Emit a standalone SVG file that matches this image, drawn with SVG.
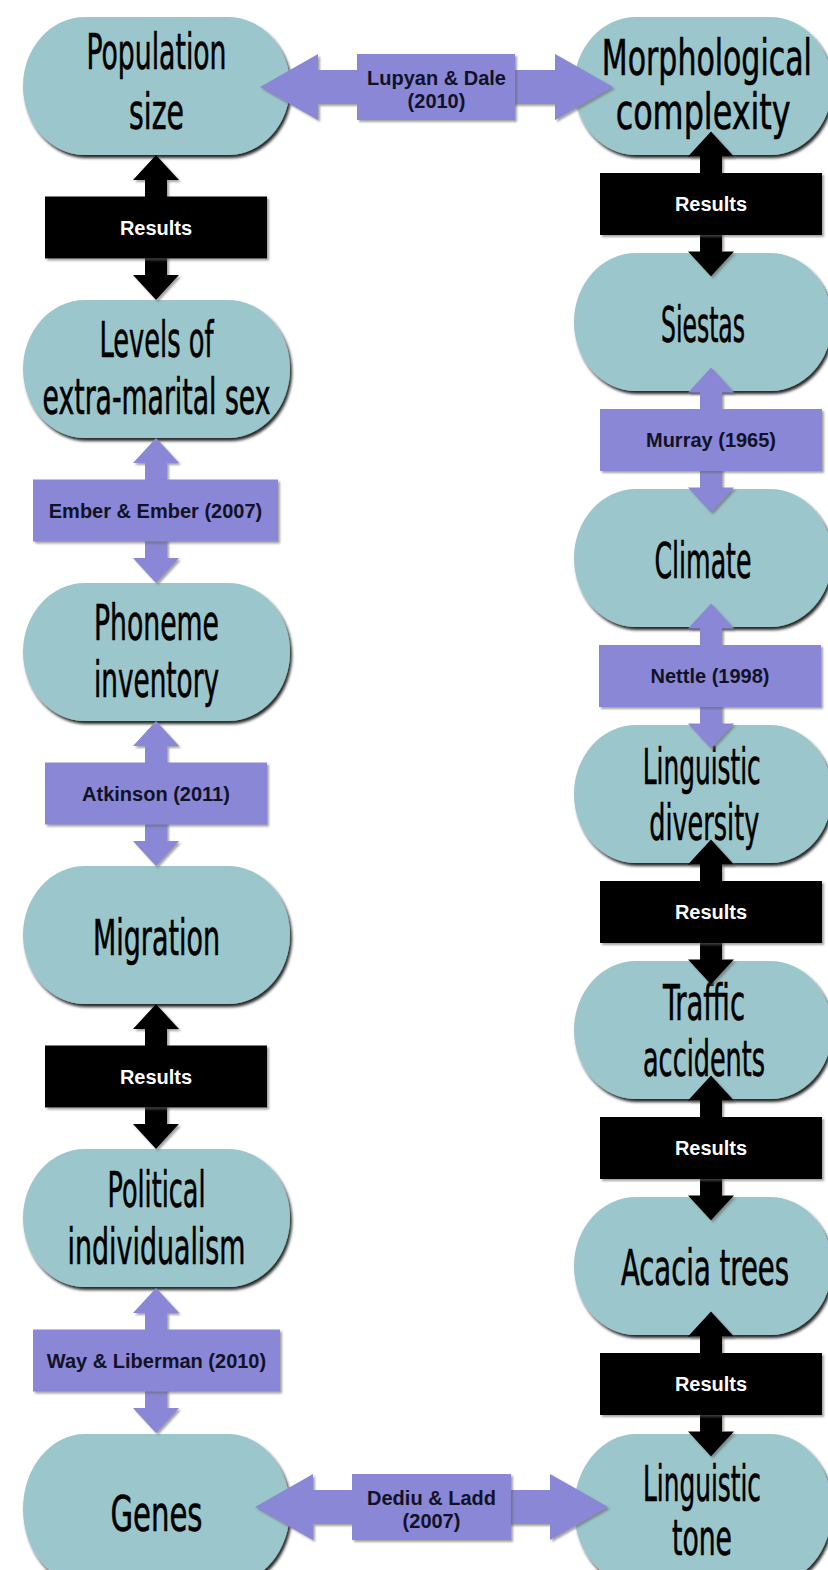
<svg xmlns="http://www.w3.org/2000/svg" xmlns:xlink="http://www.w3.org/1999/xlink" width="828" height="1570" viewBox="0 0 828 1570">
<style>
.node{fill:#9bc6cb;filter:url(#nshadow)}
.nt{font-family:"Liberation Sans Narrow","DejaVu Sans Condensed","Liberation Sans",sans-serif;font-size:49px;fill:#000;stroke:#000;stroke-width:0.6px;text-anchor:middle}
.pu{fill:#8987d6;filter:url(#ashadow)}
.bk{fill:#000;filter:url(#ashadow)}
.lt{font-family:"Liberation Sans",Arial,sans-serif;font-weight:bold;font-size:20px;text-anchor:middle}
.lp{fill:#121226}
.lw{fill:#fff}
</style>
<defs>
<filter id="nshadow" x="-10%" y="-10%" width="125%" height="130%">
<feDropShadow dx="2" dy="3" stdDeviation="1.5" flood-color="#000" flood-opacity="0.85"/>
</filter>
<filter id="ashadow" x="-10%" y="-10%" width="125%" height="130%">
<feDropShadow dx="2" dy="2" stdDeviation="1" flood-color="#666" flood-opacity="0.6"/>
</filter>
<path id="va" d="M0,-72.5 L23,-47.5 L11,-47.5 L11,47.5 L23,47.5 L0,72.5 L-23,47.5 L-11,47.5 L-11,-47.5 L-23,-47.5 Z"/>
<path id="ha" d="M-176.5,0 L-118.5,-33 L-118.5,-17 L118.5,-17 L118.5,-33 L176.5,0 L118.5,33 L118.5,17 L-118.5,17 L-118.5,33 Z"/>
</defs>
<rect width="828" height="1570" fill="#fff"/>

<g id="n-population">
<rect class="node" x="23" y="17" width="267" height="138" rx="62" ry="69"/>
<text class="nt" transform="translate(156.5,0) scale(0.62,1)"><tspan x="0" y="69" textLength="225.8" lengthAdjust="spacingAndGlyphs">Population</tspan><tspan x="0" y="129" textLength="88.7" lengthAdjust="spacingAndGlyphs">size</tspan></text>
</g>
<g id="n-levels">
<rect class="node" x="23" y="300" width="267" height="138" rx="62" ry="69"/>
<text class="nt" transform="translate(156.5,0) scale(0.62,1)"><tspan x="0" y="357" textLength="183.9" lengthAdjust="spacingAndGlyphs">Levels of</tspan><tspan x="0" y="414" textLength="367.7" lengthAdjust="spacingAndGlyphs">extra-marital sex</tspan></text>
</g>
<g id="n-phoneme">
<rect class="node" x="23" y="583" width="267" height="138" rx="62" ry="69"/>
<text class="nt" transform="translate(156.5,0) scale(0.62,1)"><tspan x="0" y="640" textLength="201.6" lengthAdjust="spacingAndGlyphs">Phoneme</tspan><tspan x="0" y="697" textLength="201.6" lengthAdjust="spacingAndGlyphs">inventory</tspan></text>
</g>
<g id="n-migration">
<rect class="node" x="23" y="866" width="267" height="138" rx="62" ry="69"/>
<text class="nt" transform="translate(156.5,955) scale(0.62,1)" textLength="204.8" lengthAdjust="spacingAndGlyphs">Migration</text>
</g>
<g id="n-political">
<rect class="node" x="23" y="1149" width="267" height="138" rx="62" ry="69"/>
<text class="nt" transform="translate(156.5,0) scale(0.62,1)"><tspan x="0" y="1207" textLength="158" lengthAdjust="spacingAndGlyphs">Political</tspan><tspan x="0" y="1264" textLength="287" lengthAdjust="spacingAndGlyphs">individualism</tspan></text>
</g>
<g id="n-genes">
<rect class="node" x="23" y="1434" width="267" height="150" rx="62" ry="75"/>
<text class="nt" transform="translate(156.5,1531) scale(0.62,1)" textLength="148.4" lengthAdjust="spacingAndGlyphs">Genes</text>
</g>

<g id="n-morph">
<rect class="node" x="574" y="17" width="258" height="138" rx="62" ry="69"/>
<text class="nt" transform="translate(705,0) scale(0.62,1)"><tspan x="3" y="75" textLength="338.7" lengthAdjust="spacingAndGlyphs">Morphological</tspan><tspan x="-3" y="129" textLength="282.3" lengthAdjust="spacingAndGlyphs">complexity</tspan></text>
</g>
<g id="n-siestas">
<rect class="node" x="574" y="253" width="258" height="138" rx="62" ry="69"/>
<text class="nt" transform="translate(703,342) scale(0.62,1)" textLength="135.5" lengthAdjust="spacingAndGlyphs">Siestas</text>
</g>
<g id="n-climate">
<rect class="node" x="574" y="489" width="258" height="138" rx="62" ry="69"/>
<text class="nt" transform="translate(703,578) scale(0.62,1)" textLength="156.5" lengthAdjust="spacingAndGlyphs">Climate</text>
</g>
<g id="n-lingdiv">
<rect class="node" x="574" y="725" width="258" height="138" rx="62" ry="69"/>
<text class="nt" transform="translate(703,0) scale(0.62,1)"><tspan x="-2" y="784" textLength="190.3" lengthAdjust="spacingAndGlyphs">Linguistic</tspan><tspan x="2" y="840" textLength="177.4" lengthAdjust="spacingAndGlyphs">diversity</tspan></text>
</g>
<g id="n-traffic">
<rect class="node" x="574" y="961" width="258" height="138" rx="62" ry="69"/>
<text class="nt" transform="translate(704,0) scale(0.62,1)"><tspan x="0" y="1020" textLength="132.3" lengthAdjust="spacingAndGlyphs">Traffic</tspan><tspan x="0" y="1076" textLength="196.8" lengthAdjust="spacingAndGlyphs">accidents</tspan></text>
</g>
<g id="n-acacia">
<rect class="node" x="574" y="1197" width="258" height="138" rx="62" ry="69"/>
<text class="nt" transform="translate(705,1285) scale(0.62,1)" textLength="271" lengthAdjust="spacingAndGlyphs">Acacia trees</text>
</g>
<g id="n-tone">
<rect class="node" x="574" y="1434" width="258" height="150" rx="62" ry="75"/>
<text class="nt" transform="translate(702,0) scale(0.62,1)"><tspan x="0" y="1501" textLength="190.3" lengthAdjust="spacingAndGlyphs">Linguistic</tspan><tspan x="0" y="1555" textLength="96.8" lengthAdjust="spacingAndGlyphs">tone</tspan></text>
</g>

<g id="connectors">
<g id="c-lupyan">
<use xlink:href="#ha" href="#ha" x="436.5" y="87" class="pu"/>
<rect class="pu" x="357" y="54" width="158" height="66"/>
<text class="lt lp"><tspan x="436.5" y="85">Lupyan &amp; Dale</tspan><tspan x="436.5" y="108">(2010)</tspan></text>
</g>
<g id="c-dediu">
<use xlink:href="#ha" href="#ha" x="431.5" y="1507" class="pu"/>
<rect class="pu" x="352" y="1474" width="159" height="66"/>
<text class="lt lp"><tspan x="431.5" y="1505">Dediu &amp; Ladd</tspan><tspan x="431.5" y="1528">(2007)</tspan></text>
</g>
<g id="c-l1">
<use xlink:href="#va" href="#va" x="156" y="227.5" class="bk"/>
<rect class="bk" x="45" y="196.5" width="222" height="62"/>
<text class="lt lw" x="156" y="234.5">Results</text>
</g>
<g id="c-l2">
<use xlink:href="#va" href="#va" x="156" y="510.5" class="pu"/>
<rect class="pu" x="33" y="479.5" width="245" height="62"/>
<text class="lt lp" x="155.5" y="517.5">Ember &amp; Ember (2007)</text>
</g>
<g id="c-l3">
<use xlink:href="#va" href="#va" x="156" y="793.5" class="pu"/>
<rect class="pu" x="45" y="762.5" width="222" height="62"/>
<text class="lt lp" x="156" y="800.5">Atkinson (2011)</text>
</g>
<g id="c-l4">
<use xlink:href="#va" href="#va" x="156" y="1076.5" class="bk"/>
<rect class="bk" x="45" y="1045.5" width="222" height="62"/>
<text class="lt lw" x="156" y="1083.5">Results</text>
</g>
<g id="c-l5">
<use xlink:href="#va" href="#va" x="156" y="1360.5" class="pu"/>
<rect class="pu" x="33" y="1329.5" width="247" height="62"/>
<text class="lt lp" x="156.5" y="1367.5">Way &amp; Liberman (2010)</text>
</g>
<g id="c-r1">
<use xlink:href="#va" href="#va" x="711" y="204" class="bk"/>
<rect class="bk" x="600" y="173" width="222" height="62"/>
<text class="lt lw" x="711" y="211">Results</text>
</g>
<g id="c-r2">
<use xlink:href="#va" href="#va" x="711" y="440" class="pu"/>
<rect class="pu" x="600" y="409" width="222" height="62"/>
<text class="lt lp" x="711" y="447">Murray (1965)</text>
</g>
<g id="c-r3">
<use xlink:href="#va" href="#va" x="711" y="676" class="pu"/>
<rect class="pu" x="599" y="645" width="222" height="62"/>
<text class="lt lp" x="710" y="683">Nettle (1998)</text>
</g>
<g id="c-r4">
<use xlink:href="#va" href="#va" x="711" y="912" class="bk"/>
<rect class="bk" x="600" y="881" width="222" height="62"/>
<text class="lt lw" x="711" y="919">Results</text>
</g>
<g id="c-r5">
<use xlink:href="#va" href="#va" x="711" y="1148" class="bk"/>
<rect class="bk" x="600" y="1117" width="222" height="62"/>
<text class="lt lw" x="711" y="1155">Results</text>
</g>
<g id="c-r6">
<use xlink:href="#va" href="#va" x="711" y="1384" class="bk"/>
<rect class="bk" x="600" y="1353" width="222" height="62"/>
<text class="lt lw" x="711" y="1391">Results</text>
</g>
</g>
</svg>
